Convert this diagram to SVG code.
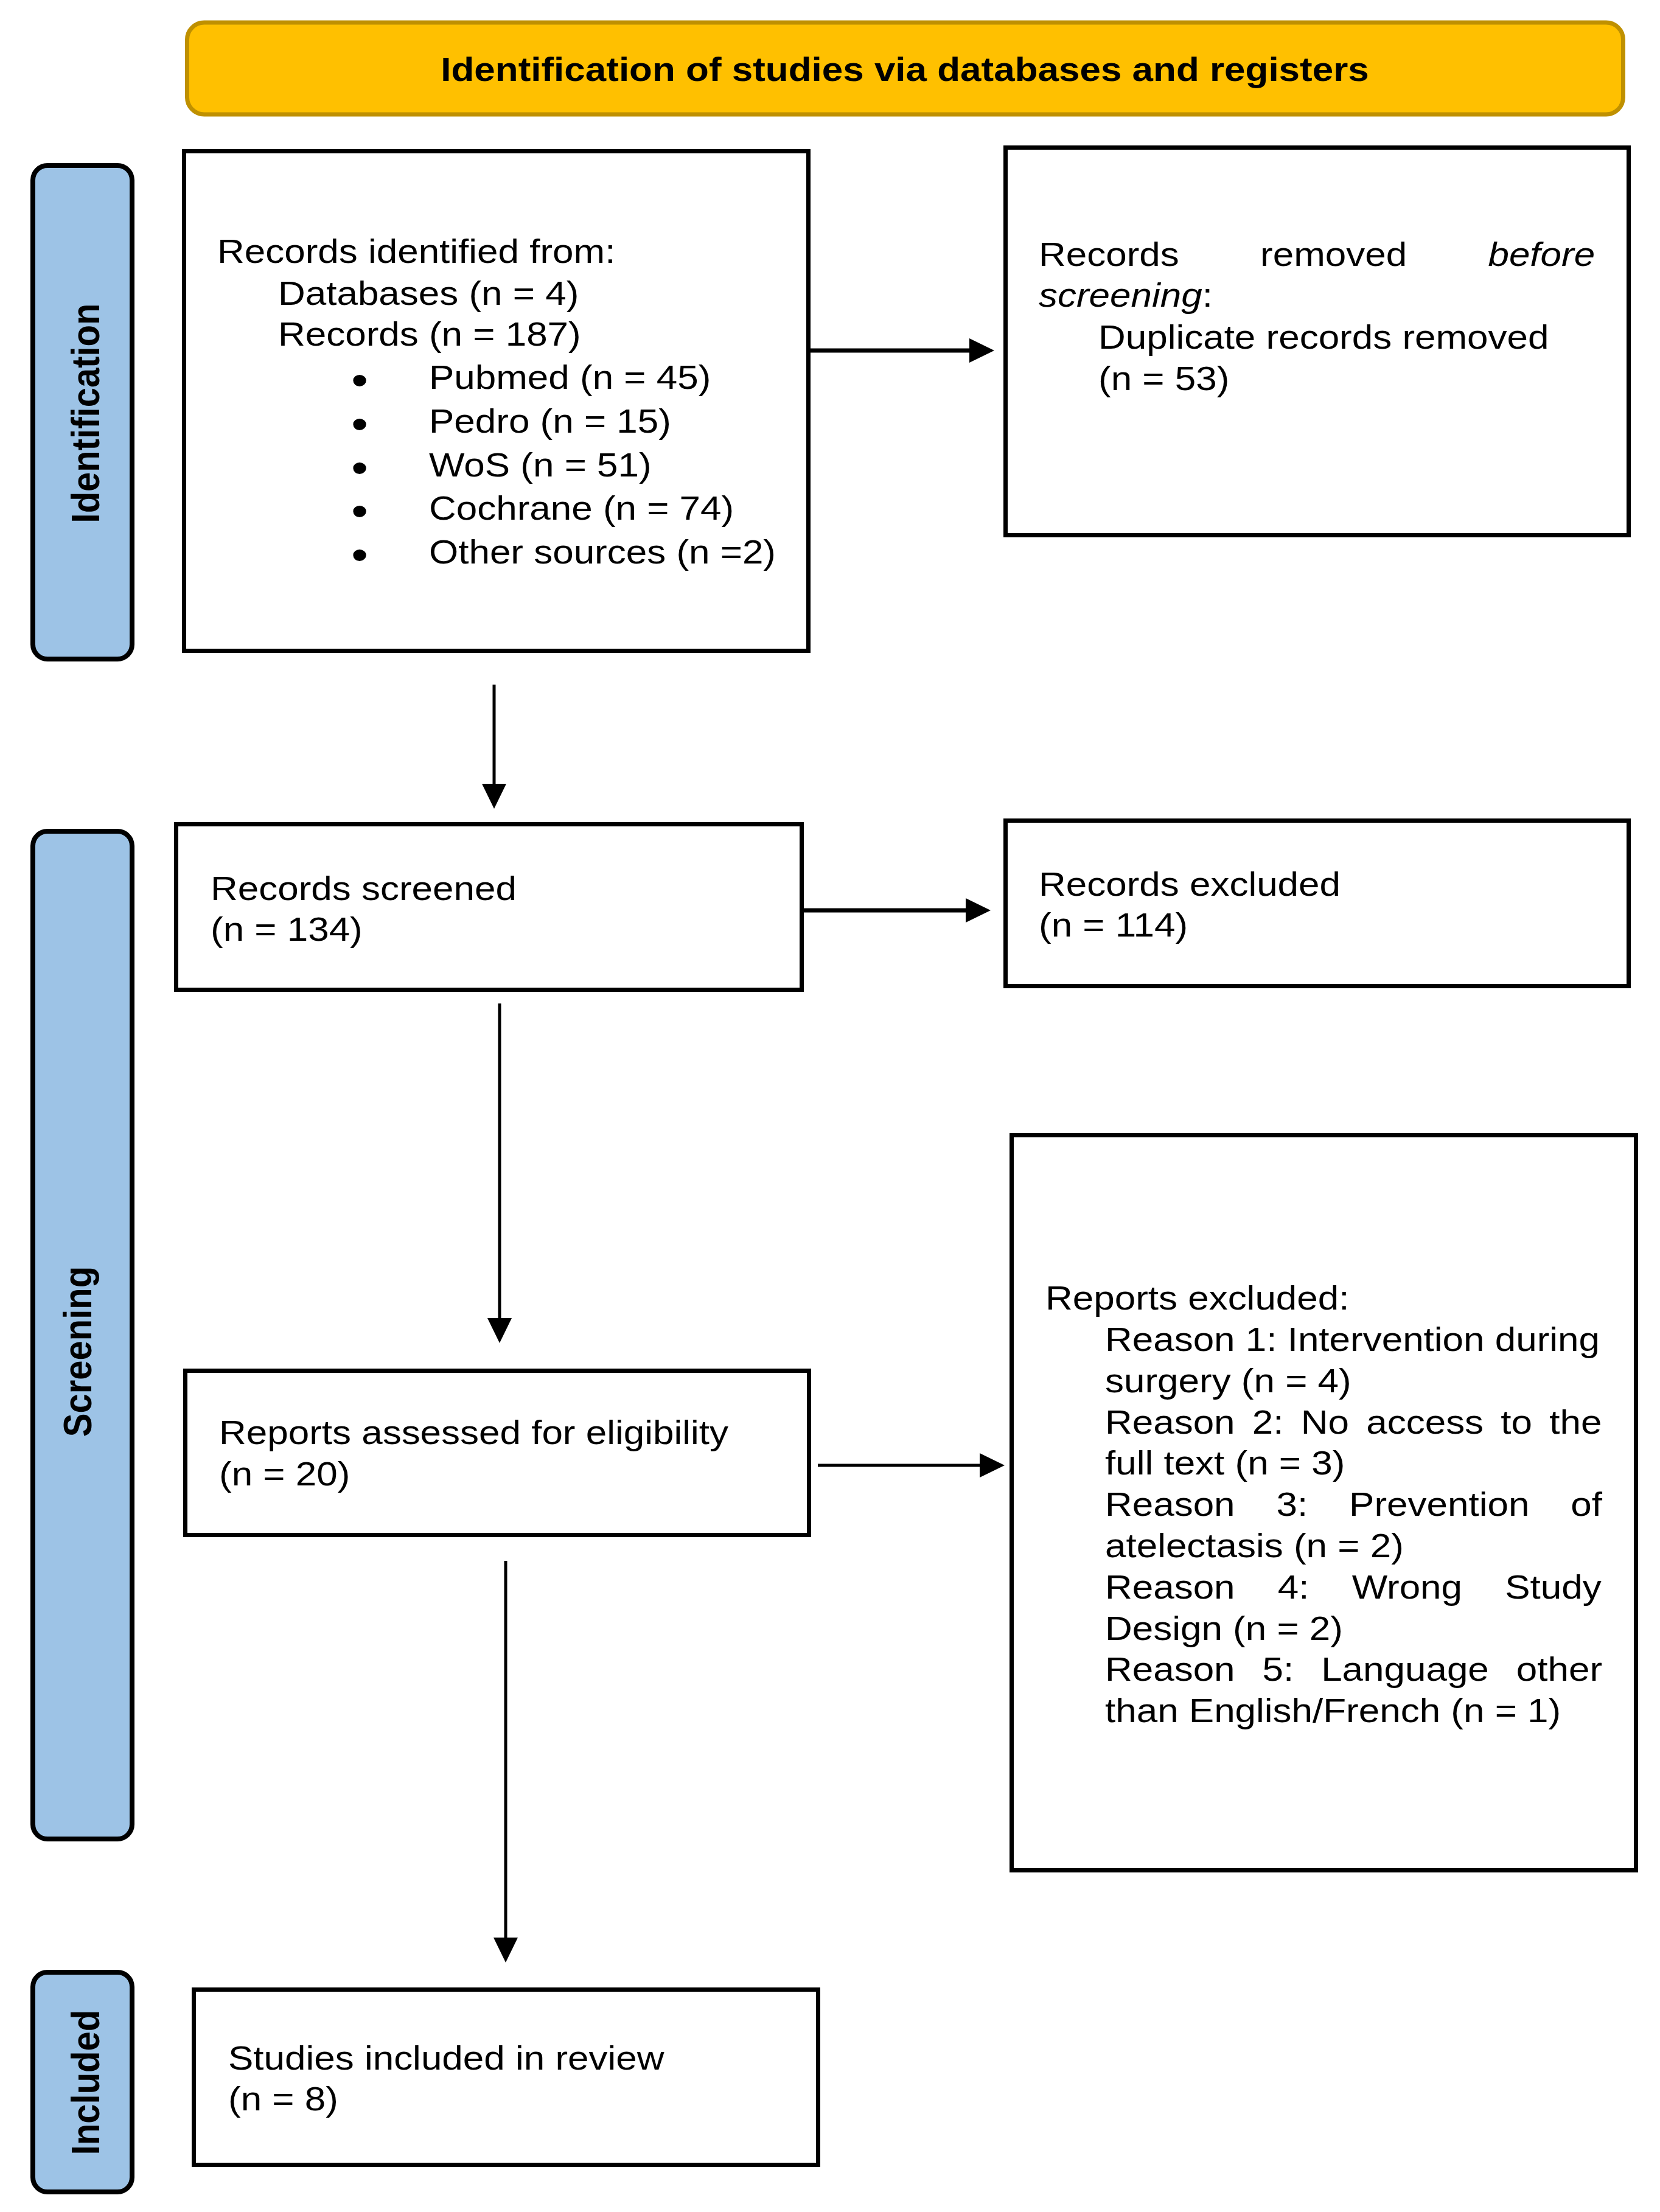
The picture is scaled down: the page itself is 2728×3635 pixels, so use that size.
<svg xmlns="http://www.w3.org/2000/svg" width="2728" height="3635" viewBox="0 0 2728 3635">
<style>
  text { font-family: "Liberation Sans", Arial, Helvetica, sans-serif; fill: #000; }
  .t { font-size: 55px; }
  .bu { font-size: 70px; text-anchor: middle; }
  .b { font-weight: bold; }
  .lab { font-size: 58px; font-weight: bold; text-anchor: middle; }
  .box { fill: #fff; stroke: #000; stroke-width: 7; }
  .bar { fill: #9DC3E6; stroke: #000; stroke-width: 8; }
  .hdr { fill: #FFC000; stroke: #BF9000; stroke-width: 7; }
  .con { stroke: #000; fill: none; marker-end: url(#ah); }
  .thick { stroke-width: 7; }
  .thin { stroke-width: 5; }
  .i { font-style: italic; }
</style>
<defs>
  <marker id="ah" markerUnits="userSpaceOnUse" viewBox="0 0 41 40" markerWidth="41" markerHeight="40" refX="0" refY="20" orient="auto">
    <path d="M0,0 L41,20 L0,40 Z" fill="#000"/>
  </marker>
</defs>
<rect width="2728" height="3635" fill="#fff"/>

<g id="header">
  <rect class="hdr" x="307.5" y="37" width="2360" height="151" rx="28" ry="28"/>
  <text class="t b" text-anchor="middle" transform="translate(1487,133) scale(1.127,1)">Identification of studies via databases and registers</text>
</g>

<g id="bar-identification">
  <rect class="bar" x="54" y="272" width="163" height="811" rx="24" ry="24"/>
  <text class="lab" transform="translate(163,679) rotate(-90) scale(1,1.13)">Identification</text>
</g>
<g id="bar-screening">
  <rect class="bar" x="54" y="1366" width="163" height="1656" rx="24" ry="24"/>
  <text class="lab" transform="translate(150,2221) rotate(-90) scale(1,1.13)">Screening</text>
</g>
<g id="bar-included">
  <rect class="bar" x="54" y="3241" width="163" height="361" rx="24" ry="24"/>
  <text class="lab" transform="translate(163,3422) rotate(-90) scale(1,1.13)">Included</text>
</g>

<g id="records-identified">
  <rect class="box" x="302.5" y="248.5" width="1026" height="821"/>
  <text class="t" transform="translate(357,432) scale(1.127,1)">Records identified from:</text>
  <text class="t" transform="translate(457,501) scale(1.127,1)">Databases (n = 4)</text>
  <text class="t" transform="translate(457,568) scale(1.127,1)">Records (n = 187)</text>
  <text class="bu" transform="translate(591,649) scale(1.127,1)">•</text>
  <text class="t" transform="translate(705,639) scale(1.127,1)">Pubmed (n = 45)</text>
  <text class="bu" transform="translate(591,721) scale(1.127,1)">•</text>
  <text class="t" transform="translate(705,711) scale(1.127,1)">Pedro (n = 15)</text>
  <text class="bu" transform="translate(591,793) scale(1.127,1)">•</text>
  <text class="t" transform="translate(705,783) scale(1.127,1)">WoS (n = 51)</text>
  <text class="bu" transform="translate(591,864) scale(1.127,1)">•</text>
  <text class="t" transform="translate(705,854) scale(1.127,1)">Cochrane (n = 74)</text>
  <text class="bu" transform="translate(591,936) scale(1.127,1)">•</text>
  <text class="t" transform="translate(705,926) scale(1.127,1)">Other sources (n =2)</text>
</g>

<g id="records-removed">
  <rect class="box" x="1652.5" y="242.5" width="1024" height="637"/>
  <text class="t" transform="translate(1707,437) scale(1.127,1)" style="word-spacing:103px">Records removed <tspan class="i">before</tspan></text>
  <text class="t" transform="translate(1707,504) scale(1.127,1)"><tspan class="i">screening</tspan>:</text>
  <text class="t" transform="translate(1805,573) scale(1.127,1)">Duplicate records removed</text>
  <text class="t" transform="translate(1805,641) scale(1.127,1)">(n = 53)</text>
</g>

<g id="records-screened">
  <rect class="box" x="289.5" y="1354.5" width="1028" height="272"/>
  <text class="t" transform="translate(346,1479) scale(1.127,1)">Records screened</text>
  <text class="t" transform="translate(346,1546) scale(1.127,1)">(n = 134)</text>
</g>

<g id="records-excluded">
  <rect class="box" x="1652.5" y="1348.5" width="1024" height="272"/>
  <text class="t" transform="translate(1707,1472) scale(1.127,1)">Records excluded</text>
  <text class="t" transform="translate(1707,1539) scale(1.127,1)">(n = 114)</text>
</g>

<g id="reports-assessed">
  <rect class="box" x="304.5" y="2252.5" width="1025" height="270"/>
  <text class="t" transform="translate(360,2373) scale(1.127,1)">Reports assessed for eligibility</text>
  <text class="t" transform="translate(360,2441) scale(1.127,1)">(n = 20)</text>
</g>

<g id="reports-excluded">
  <rect class="box" x="1662.5" y="1865.5" width="1026" height="1208"/>
  <text class="t" transform="translate(1718,2152) scale(1.127,1)">Reports excluded:</text>
  <text class="t" transform="translate(1816,2220) scale(1.127,1)">Reason 1: Intervention during</text>
  <text class="t" transform="translate(1816,2288) scale(1.127,1)">surgery (n = 4)</text>
  <text class="t" transform="translate(1816,2356) scale(1.127,1)" style="word-spacing:9.8px">Reason 2: No access to the</text>
  <text class="t" transform="translate(1816,2423) scale(1.127,1)">full text (n = 3)</text>
  <text class="t" transform="translate(1816,2491) scale(1.127,1)" style="word-spacing:45px">Reason 3: Prevention of</text>
  <text class="t" transform="translate(1816,2559) scale(1.127,1)">atelectasis (n = 2)</text>
  <text class="t" transform="translate(1816,2627) scale(1.127,1)" style="word-spacing:47px">Reason 4: Wrong Study</text>
  <text class="t" transform="translate(1816,2695) scale(1.127,1)">Design (n = 2)</text>
  <text class="t" transform="translate(1816,2762) scale(1.127,1)" style="word-spacing:24.6px">Reason 5: Language other</text>
  <text class="t" transform="translate(1816,2830) scale(1.127,1)">than English/French (n = 1)</text>
</g>

<g id="studies-included">
  <rect class="box" x="318.5" y="3269.5" width="1026" height="288"/>
  <text class="t" transform="translate(375,3401) scale(1.127,1)">Studies included in review</text>
  <text class="t" transform="translate(375,3468) scale(1.127,1)">(n = 8)</text>
</g>

<g id="connectors">
  <line class="con thick" x1="1332" y1="576" x2="1593" y2="576"/>
  <line class="con thin" x1="812" y1="1125" x2="812" y2="1288"/>
  <line class="con thick" x1="1321" y1="1496" x2="1587" y2="1496"/>
  <line class="con thin" x1="821" y1="1649" x2="821" y2="2166"/>
  <line class="con thin" x1="1344" y1="2408" x2="1610" y2="2408"/>
  <line class="con thin" x1="831" y1="2565" x2="831" y2="3184"/>
</g>
</svg>
